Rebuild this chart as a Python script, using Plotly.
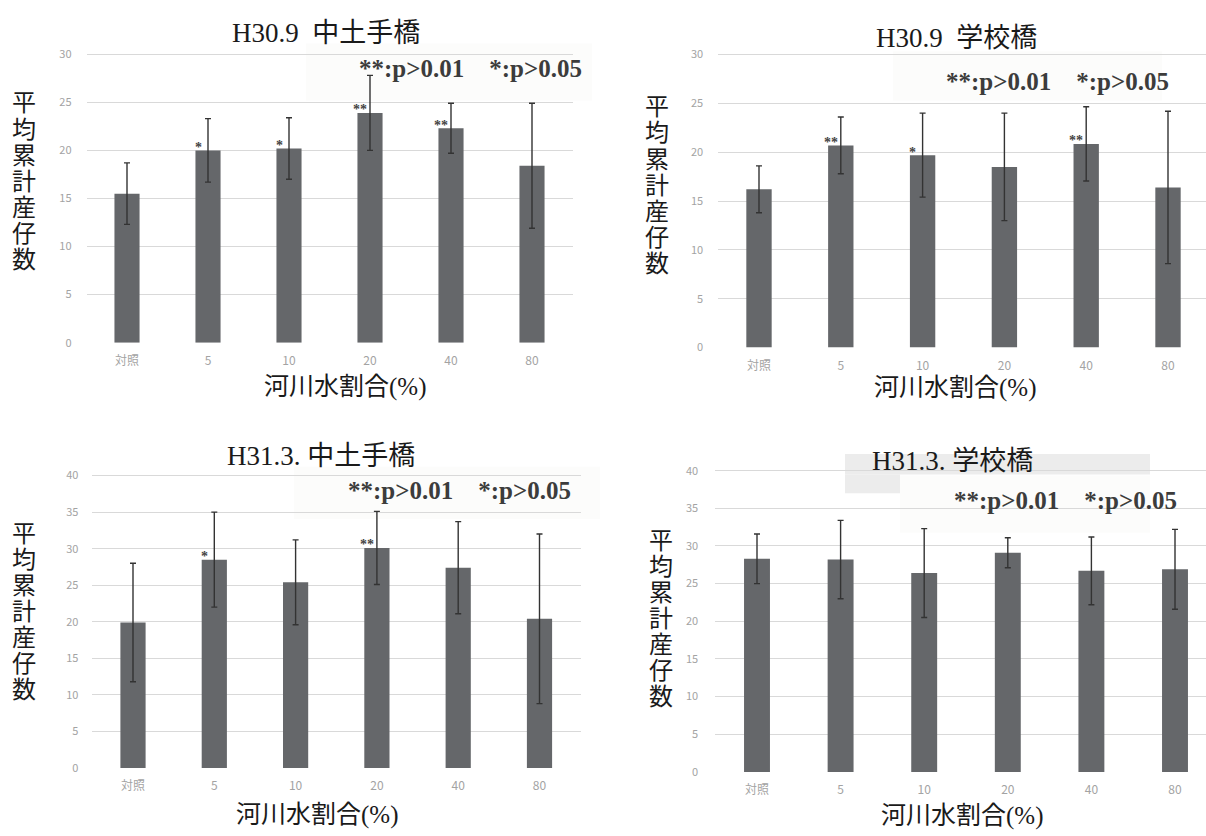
import plotly.graph_objects as go

W, H = 1206, 836

# ---- data -------------------------------------------------------------
categories = ["対照", "5", "10", "20", "40", "80"]

titles = ["H30.9\u00a0\u00a0中土手橋", "H30.9\u00a0\u00a0学校橋",
          "H31.3.\u00a0中土手橋", "H31.3.\u00a0学校橋"]

h30_9_nakadote_mean = [15.5, 20.0, 20.2, 23.9, 22.3, 18.4]
h30_9_nakadote_sd = [3.2, 3.3, 3.2, 3.9, 2.6, 6.5]
h30_9_nakadote_sig = ["", "*", "*", "**", "**", ""]

h30_9_gakko_mean = [16.2, 20.7, 19.7, 18.5, 20.85, 16.4]
h30_9_gakko_sd = [2.4, 2.9, 4.3, 5.5, 3.8, 7.8]
h30_9_gakko_sig = ["", "**", "*", "", "**", ""]

h31_3_nakadote_mean = [19.9, 28.5, 25.4, 30.1, 27.4, 20.4]
h31_3_nakadote_sd = [8.1, 6.5, 5.8, 5.0, 6.3, 11.6]
h31_3_nakadote_sig = ["", "*", "", "**", "", ""]

h31_3_gakko_mean = [28.3, 28.2, 26.4, 29.1, 26.7, 26.9]
h31_3_gakko_sd = [3.3, 5.2, 5.9, 2.0, 4.5, 5.3]
h31_3_gakko_sig = ["", "", "", "", "", ""]

y_title = "平均累計産仔数"
x_title = "河川水割合(%)"
legend_note = "**:p>0.01\u00a0\u00a0\u00a0\u00a0*:p>0.05"

# ---- styles -----------------------------------------------------------
BAR = "#65676a"
ERR = "#333333"
GRID = "#d9d9d9"
TICK = "#a3a3a3"
TEXT = "#1a1a1a"
SERIF = "Liberation Serif, Noto Sans CJK JP, serif"
SANS = "Noto Sans CJK JP, Liberation Sans, sans-serif"


def px_x(p):
    return p / W


def px_y(p):
    return 1 - p / H


# pixel layout for each panel
panels = [
    dict(mean=h30_9_nakadote_mean, sd=h30_9_nakadote_sd, sig=h30_9_nakadote_sig,
         x0=127, step=81.0, right=573, y0=342, ytop=49, vmax=30,
         title=(326, 27), ylab=(24, 88), xlab=(345, 387), note=(470, 63),
         box=(306, 38, 592, 96), ystand=14),
    dict(mean=h30_9_gakko_mean, sd=h30_9_gakko_sd, sig=h30_9_gakko_sig,
         x0=759, step=81.8, right=1206, y0=347, ytop=49.3, vmax=30,
         title=(956, 33), ylab=(657, 92), xlab=(955, 388), note=(1057, 77),
         box=(893, 46, 1162, 96), ystand=14),
    dict(mean=h31_3_nakadote_mean, sd=h31_3_nakadote_sd, sig=h31_3_nakadote_sig,
         x0=133, step=81.3, right=581, y0=774, ytop=477, vmax=40,
         title=(321, 457), ylab=(24, 525), xlab=(317, 822), note=(459, 492),
         box=(294, 468, 600, 521), ystand=13),
    dict(mean=h31_3_gakko_mean, sd=h31_3_gakko_sd, sig=h31_3_gakko_sig,
         x0=757, step=83.6, right=1206, y0=778, ytop=472, vmax=40,
         title=(952, 462), ylab=(661, 532), xlab=(962, 823), note=(1065, 502),
         box=(900, 477, 1150, 535), ystand=16),
]

fig = go.Figure()
annotations = []
shapes = []

for i, p in enumerate(panels):
    sfx = "" if i == 0 else str(i + 1)
    xa, ya = "x" + sfx, "y" + sfx

    fig.add_trace(go.Bar(
        x=categories, y=p["mean"],
        error_y=dict(type="data", array=p["sd"], visible=True,
                     color=ERR, thickness=1.4, width=3),
        marker=dict(color=BAR, line=dict(width=0)),
        width=0.31, xaxis=xa, yaxis=ya, showlegend=False,
    ))

    # axes geometry
    left = p["x0"] - p["step"] / 2
    xr_end = (p["right"] - p["x0"]) / p["step"]
    scale = (p["y0"] - p["ytop"]) / p["vmax"]
    ymax = p["vmax"] * 1.012
    top_px = p["y0"] - ymax * scale

    fig.layout["xaxis" + sfx] = dict(
        domain=[px_x(left), min(1.0, px_x(p["right"]))],
        range=[-0.5, xr_end], type="category", anchor=ya,
        showgrid=False, showline=False, zeroline=False, ticks="",
        tickfont=dict(family=SANS, size=12, color=TICK),
        ticklabelstandoff=9, fixedrange=True,
    )
    fig.layout["yaxis" + sfx] = dict(
        domain=[px_y(p["y0"]), px_y(top_px)],
        range=[0, ymax], dtick=5, anchor=xa,
        showgrid=True, gridcolor=GRID, gridwidth=1.4,
        zeroline=False, showline=False, ticks="",
        tickfont=dict(family=SANS, size=11, color=TICK),
        ticklabelstandoff=p["ystand"], fixedrange=True,
    )

    # panel title
    annotations.append(dict(
        text=titles[i], x=px_x(p["title"][0]), y=px_y(p["title"][1]),
        xref="paper", yref="paper", showarrow=False,
        xanchor="center", yanchor="middle",
        font=dict(family=SERIF, size=27, color=TEXT),
    ))
    # x axis title
    annotations.append(dict(
        text=x_title, x=px_x(p["xlab"][0]), y=px_y(p["xlab"][1]),
        xref="paper", yref="paper", showarrow=False,
        xanchor="center", yanchor="middle",
        font=dict(family=SERIF, size=25, color=TEXT),
    ))
    # vertical y axis title, one character per line
    for k, ch in enumerate(y_title):
        annotations.append(dict(
            text=ch, x=px_x(p["ylab"][0]),
            y=px_y(p["ylab"][1] + 11 + k * 26.5),
            xref="paper", yref="paper", showarrow=False,
            xanchor="center", yanchor="middle",
            font=dict(family=SERIF, size=24, color=TEXT),
        ))
    # significance legend
    annotations.append(dict(
        text="<b>" + legend_note + "</b>",
        x=px_x(p["note"][0]), y=px_y(p["note"][1]),
        xref="paper", yref="paper", showarrow=False,
        xanchor="center", yanchor="middle",
        font=dict(family=SERIF, size=25, color="#3c3c3c"),
    ))
    # significance markers next to bar tops (category index positions)
    for k, (v, s) in enumerate(zip(p["mean"], p["sig"])):
        if s:
            annotations.append(dict(
                text="<b>" + s + "</b>", x=k, y=v, xref=xa, yref=ya,
                showarrow=False, xanchor="center", yanchor="middle",
                xshift=-10, yshift=3,
                font=dict(family=SERIF, size=14, color="#444444"),
            ))

    # light backdrop under the significance legend
    bx0, by0, bx1, by1 = p["box"]
    shapes.append(dict(
        type="rect", xref="paper", yref="paper", layer="between",
        x0=px_x(bx0), x1=min(1.0, px_x(bx1)), y0=px_y(by1), y1=px_y(by0),
        fillcolor="rgba(252,252,251,0.92)", line=dict(width=0),
    ))

# grey band behind the last panel title
shapes.append(dict(type="rect", xref="paper", yref="paper", layer="between",
                   x0=px_x(845), x1=px_x(1150), y0=px_y(476), y1=px_y(455),
                   fillcolor="#ececec", line=dict(width=0)))
shapes.append(dict(type="rect", xref="paper", yref="paper", layer="between",
                   x0=px_x(845), x1=px_x(900), y0=px_y(495), y1=px_y(476),
                   fillcolor="#ececec", line=dict(width=0)))

fig.update_layout(
    width=W, height=H, margin=dict(l=0, r=0, t=0, b=0),
    paper_bgcolor="white", plot_bgcolor="rgba(0,0,0,0)",
    annotations=annotations, shapes=shapes, bargap=0.69,
)

fig.write_html("out.html")
